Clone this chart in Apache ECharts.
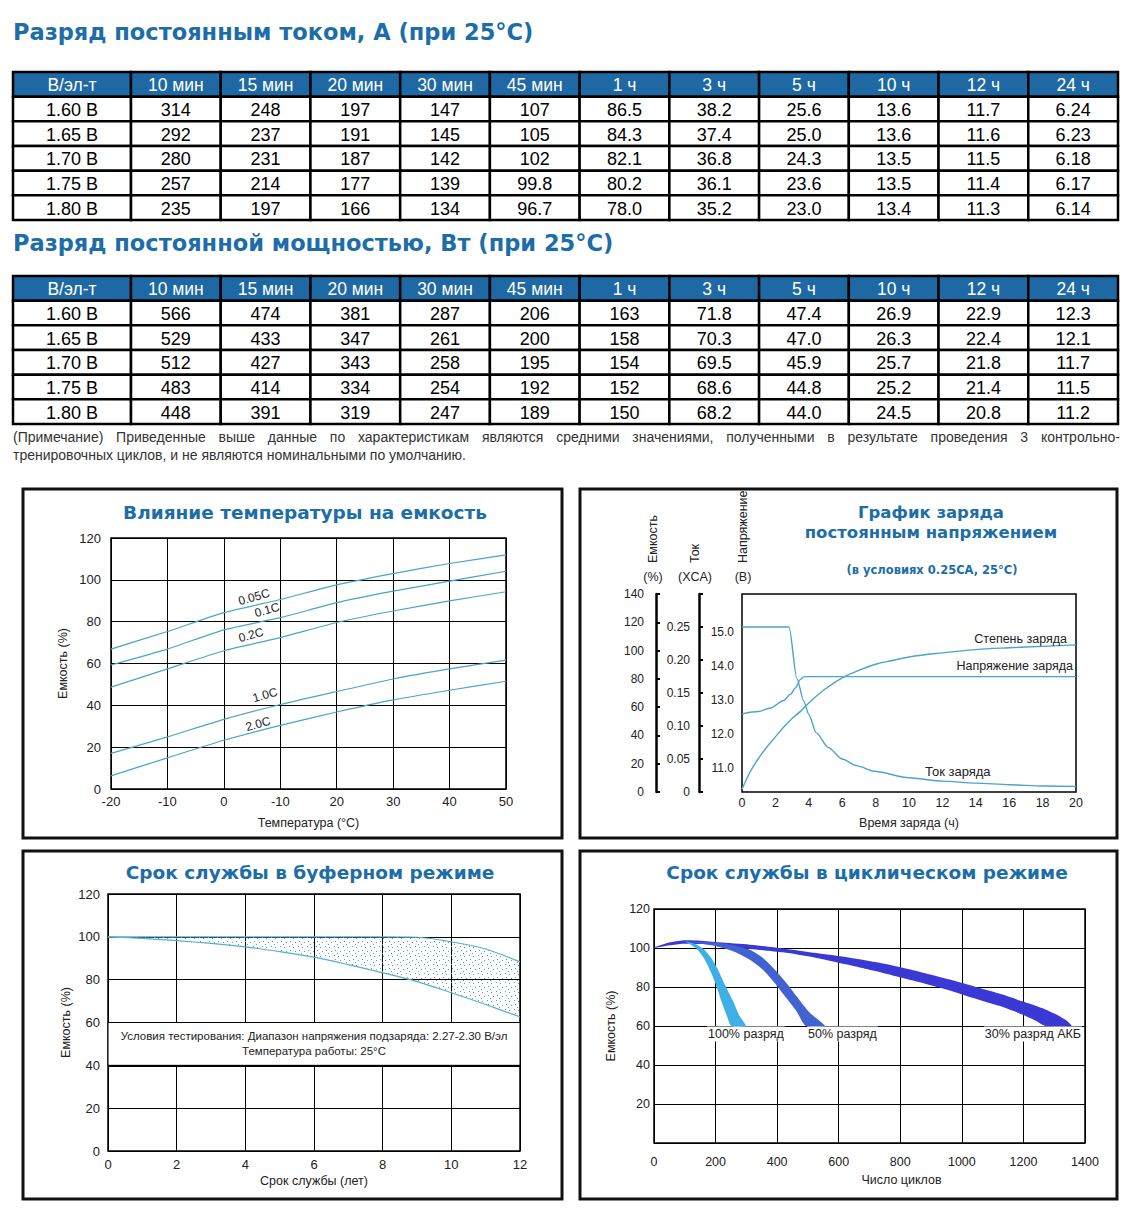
<!DOCTYPE html>
<html><head><meta charset="utf-8">
<script src="https://cdn.jsdelivr.net/npm/echarts@6/dist/echarts.min.js"></script>
<style>html,body{margin:0;padding:0;background:#fff}#c{width:1130px;height:1216px}</style>
</head><body><div id="c"></div>
<script>
// ================= DATA =================
// Tables
const headFirst = 'В/эл-т';
const durations = ['10 мин','15 мин','20 мин','30 мин','45 мин','1 ч','3 ч','5 ч','10 ч','12 ч','24 ч'];
const cellVoltages = ['1.60 В','1.65 В','1.70 В','1.75 В','1.80 В'];
const currentA = [
  [314,248,197,147,107,86.5,38.2,25.6,13.6,11.7,6.24],
  [292,237,191,145,105,84.3,37.4,25.0,13.6,11.6,6.23],
  [280,231,187,142,102,82.1,36.8,24.3,13.5,11.5,6.18],
  [257,214,177,139,99.8,80.2,36.1,23.6,13.5,11.4,6.17],
  [235,197,166,134,96.7,78.0,35.2,23.0,13.4,11.3,6.14]
];
const powerW = [
  [566,474,381,287,206,163,71.8,47.4,26.9,22.9,12.3],
  [529,433,347,261,200,158,70.3,47.0,26.3,22.4,12.1],
  [512,427,343,258,195,154,69.5,45.9,25.7,21.8,11.7],
  [483,414,334,254,192,152,68.6,44.8,25.2,21.4,11.5],
  [448,391,319,247,189,150,68.2,44.0,24.5,20.8,11.2]
];
// Chart 1: temperature vs capacity
const tempC = [-20,-10,0,10,20,30,40,50];
const tempTickLabels = ['-20','-10','0','-10','20','30','40','50'];
const cap005C = [66.9,75.3,84.3,90.6,97.6,103,107.8,111.9];
const cap01C  = [59.3,66.9,76.1,81.9,89.1,94.6,99.4,104.1];
const cap02C  = [48.7,57.4,66.1,72.4,79.6,85.1,89.9,94.3];
const cap10C  = [17,24.9,33.3,40.4,46.6,52.6,57.4,61.6];
const cap20C  = [6.3,14.9,23.3,30.4,36.8,42.6,47.2,51.5];
const rateNames = ['0.05C','0.1C','0.2C','1.0C','2.0C'];
// Chart 2: constant voltage charge
const chgHoursCap = [0,0.5,1,1.5,2,2.5,3,3.5,4,5,6,7,8,9,10,12,14,16,18,20];
const chgCapacity = [2,14.5,24,32,39,46,52,57,63,73,80.7,86,90.3,93,95.5,98.4,100.7,102,103,104];
const chgHoursCur = [0,2.82,3.28,3.7,4.0,4.44,5.17,6,6.86,7.9,10,12,14,16,18,20];
const chgCurrent  = [0.25,0.25,0.1725,0.1375,0.1175,0.09,0.0675,0.05,0.04,0.0315,0.0215,0.0165,0.0135,0.011,0.009,0.0085];
const chgHoursVolt = [0,1,1.7,2.5,2.9,3.2,3.5,3.7,20];
const chgVoltage   = [12.59,12.66,12.76,12.98,13.16,13.35,13.6,13.68,13.68];
const voltTicks = [11,12,13,14,15];
// Chart 3: float service life
const floatYears = [0,1,2,3,4,5,6,7,8,9,10,11,12];
const floatUpper = [100,100,100,100,100,100,100,100,100,99.8,97.7,94.3,88.3];
const floatLower = [100,99.3,98.2,96.9,95.3,93.1,90.5,87.0,83.2,79.1,73.9,68.4,62.6];
const floatNote = ['Условия тестирования: Диапазон напряжения подзаряда: 2.27-2.30 В/эл','Температура работы: 25°C'];
// Chart 4: cycle life (band edges: [cycles, %])
const band30Upper = [[0,100.3],[51,102.9],[94,103.9],[148,103.7],[211,102.9],[311,101.7],[419,99.8],[528,97.4],[627,95.2],[744,92],[842,88.6],[961,83.8],[1018,81.3],[1124,76.5],[1196,72.7],[1260,69.2],[1310,65.6],[1340,62.8],[1356,60]];
const band30Lower = [[0,100],[51,101.4],[94,102.2],[148,102],[211,101.4],[311,99.5],[419,97.8],[528,94.9],[627,91.5],[744,87.2],[842,83.3],[961,78.2],[1018,75.3],[1124,70.2],[1196,65.9],[1240,62.7],[1272,60]];
const band50Upper = [[127,103.2],[211,102.6],[257,101.4],[311,99.1],[354,94.9],[398,88],[430,82.1],[463,75.3],[506,66.8],[555,60]];
const band50Lower = [[127,102.8],[203,100.9],[257,98.3],[311,94],[354,88.9],[392,82.1],[430,74.4],[463,67.6],[493,60]];
const band100Upper = [[100,103.5],[127,102.6],[159,99.7],[186,94.9],[208,88.9],[230,81.3],[257,72.7],[278,65.1],[298,60]];
const band100Lower = [[100,103.5],[138,99.7],[165,94],[186,87.2],[203,80.4],[219,72.7],[237,65.1],[251,60]];
const bandNames = ['100% разряд','50% разряд','30% разряд АКБ'];

// ================= STYLE =================
const BLUE = '#1c6da8';
const HEAD = '#1e68a4';
const LINE = '#4aa4cc';
const TXT = '#222';
const SANS = '"Liberation Sans", Arial, sans-serif';
const HEAVY = '"DejaVu Sans", sans-serif';

function fmt(v){ return Number(v).toPrecision(3); }

function tableRenderer(getText){
  return function(params, api){
    const c = api.value(0), r = api.value(1);
    const p = api.coord([c, r]);
    const s = api.size([1, 1]);
    const head = r === 0;
    return {type:'group', children:[
      {type:'rect', shape:{x:p[0]-s[0]/2, y:p[1]-s[1]/2, width:s[0], height:s[1]},
        style:{fill: head ? HEAD : '#fff', stroke:'#000', lineWidth:2.5}},
      {type:'text', x:p[0], y:p[1]+1, style:{text:getText(c, r), fill: head ? '#fff' : '#000',
        fontSize: head ? 17.5 : 18, fontFamily: SANS, align:'center', verticalAlign:'middle'}}
    ]};
  };
}
function cellsFirst(){ const d=[]; for(let r=0;r<=cellVoltages.length;r++) d.push([0,r]); return d; }
function cellsRest(){ const d=[]; for(let r=0;r<=cellVoltages.length;r++) for(let c=0;c<durations.length;c++) d.push([c,r]); return d; }

function dotPattern(){
  const cv = document.createElement('canvas'); cv.width = 9; cv.height = 9;
  const ctx = cv.getContext('2d'); ctx.fillStyle = '#4d9fc9';
  [[1,1],[5,2],[2,5],[7,6],[4,8]].forEach(([x,y]) => ctx.fillRect(x,y,1,1));
  return {image: cv, repeat:'repeat', imageWidth:9, imageHeight:9};
}

function bandRenderer(upper, lower, color, smooth){
  return function(params, api){
    if (params.dataIndex !== 0) return null;
    const pts = upper.map(p => api.coord(p));
    for (let i = lower.length - 1; i >= 0; i--) pts.push(api.coord(lower[i]));
    return {type:'polygon', shape:{points:pts, smooth:smooth}, style:{fill:color}};
  };
}

const pair = (xs, ys) => xs.map((x,i) => [x, ys[i]]);

const axLabel = (o) => Object.assign({color:TXT, fontSize:13, fontFamily:SANS}, o||{});
const nameStyle = {color:TXT, fontSize:12.5, fontFamily:SANS};
const gridLine = {show:true, lineStyle:{color:'#000', width:1}};

// ================= GRAPHIC (frames & text) =================
function txt(x, y, text, o){
  return Object.assign({type:'text', x:x, y:y, z:100, style:Object.assign({text:text, fill:TXT, fontSize:12.5,
    fontFamily:SANS, align:'center', verticalAlign:'middle'}, o && o.style || {})}, o && o.el || {});
}
const graphics = [];
['Разряд постоянным током, А (при 25°C)', 'Разряд постоянной мощностью, Вт (при 25°C)'].forEach((t, i) => {
  graphics.push(txt(13, i ? 243 : 32, t, {style:{fill:BLUE, fontSize:22.5, fontWeight:'bold', fontFamily:HEAVY, align:'left'}}));
});
// justified note
(function(){
  const line1 = '(Примечание) Приведенные выше данные по характеристикам являются средними значениями, полученными в результате проведения 3 контрольно-';
  const line2 = 'тренировочных циклов, и не являются номинальными по умолчанию.';
  const font = '14px "Liberation Sans"';
  const ctx = document.createElement('canvas').getContext('2d'); ctx.font = font;
  const words = line1.split(' ');
  const widths = words.map(w => ctx.measureText(w).width);
  const total = widths.reduce((a,b)=>a+b,0);
  const gap = (1120 - 13 - total) / (words.length - 1);
  let x = 13;
  words.forEach((w,i) => { graphics.push(txt(x, 437, w, {style:{align:'left', fontSize:14, fill:'#333'}})); x += widths[i] + gap; });
  graphics.push(txt(13, 455, line2, {style:{align:'left', fontSize:14, fill:'#333'}}));
})();
// frames
[[23,489],[580,489],[23,851],[580,851]].forEach(([x,y]) => graphics.push({type:'rect', z:100,
  shape:{x:x, y:y, width: x < 100 ? 539 : 537, height: y < 600 ? 349 : 348},
  style:{fill:'rgba(0,0,0,0)', stroke:'#111', lineWidth:3}}));
// chart titles
const titleStyle = {fill:BLUE, fontSize:18.5, fontWeight:'bold', fontFamily:HEAVY};
graphics.push(txt(305, 512, 'Влияние температуры на емкость', {style:titleStyle}));
graphics.push(txt(931, 512, 'График заряда', {style:Object.assign({}, titleStyle, {fontSize:16.5})}));
graphics.push(txt(931, 532, 'постоянным напряжением', {style:Object.assign({}, titleStyle, {fontSize:16.5})}));
graphics.push(txt(932, 570, '(в условиях 0.25CA, 25°C)', {style:{fill:BLUE, fontSize:11.5, fontWeight:'bold', fontFamily:HEAVY}}));
graphics.push(txt(310, 872, 'Срок службы в буферном режиме', {style:titleStyle}));
graphics.push(txt(867, 872, 'Срок службы в циклическом режиме', {style:titleStyle}));
// chart 2 axis captions
[[653,'Емкость','(%)'],[695,'Ток','(XCA)'],[743,'Напряжение','(В)']].forEach(([x,a,b]) => {
  graphics.push(txt(x, 563, a, {style:{align:'left', fontSize:12.5}, el:{rotation:Math.PI/2}}));
  graphics.push(txt(x, 577, b, {style:{fontSize:12.5}}));
});
// chart 2 curve labels
graphics.push(txt(1067, 639, 'Степень заряда', {style:{align:'right'}}));
graphics.push(txt(1073, 666, 'Напряжение заряда', {style:{align:'right'}}));
graphics.push(txt(925, 771, 'Ток заряда', {style:{align:'left', fontSize:13}}));
// chart 1 rate labels
[[254,597],[267,610],[251,635],[265,695],[258,724]].forEach(([x,y],i) =>
  graphics.push(txt(x, y, rateNames[i], {style:{fontSize:12}, el:{rotation:16*Math.PI/180}})));
// chart 4 band labels
[[707,'left'],[807,'left'],[1082,'right']].forEach(([x,a],i) =>
  graphics.push(txt(x, 1034, bandNames[i], {style:{align:a, fontSize:12.5, backgroundColor:'#fff', padding:[1,1]}})));

// ================= OPTION =================
const option = {
  animation:false,
  backgroundColor:'#fff',
  grid:[
    {left:13, top:72, width:118, height:148},
    {left:131, top:72, width:987, height:148},
    {left:13, top:276, width:118, height:148},
    {left:131, top:276, width:987, height:148},
    {left:111, top:538, width:395, height:251, show:true, borderColor:'#000', borderWidth:1.5},
    {left:742, top:594, width:334, height:198, show:true, borderColor:'#000', borderWidth:1.5},
    {left:108, top:894, width:412, height:257, show:true, borderColor:'#000', borderWidth:1.5},
    {left:654, top:909, width:431, height:234, show:true, borderColor:'#000', borderWidth:1.5}
  ],
  xAxis:[
    {gridIndex:0, type:'category', data:[headFirst], show:false},
    {gridIndex:1, type:'category', data:durations, show:false},
    {gridIndex:2, type:'category', data:[headFirst], show:false},
    {gridIndex:3, type:'category', data:durations, show:false},
    {gridIndex:4, type:'value', min:-20, max:50, interval:10, axisLine:{show:false}, axisTick:{show:false}, splitLine:gridLine,
      axisLabel:axLabel({margin:6, formatter: v => { const i = tempC.indexOf(v); return i >= 0 ? tempTickLabels[i] : String(v); }}),
      name:'Температура (°C)', nameLocation:'middle', nameGap:27, nameTextStyle:nameStyle},
    {gridIndex:5, type:'value', min:0, max:20, interval:2, axisLine:{show:false}, axisTick:{show:false}, splitLine:{show:false},
      axisLabel:axLabel({margin:4, fontSize:12.5}),
      name:'Время заряда (ч)', nameLocation:'middle', nameGap:24, nameTextStyle:nameStyle},
    {gridIndex:6, type:'value', min:0, max:12, interval:2, axisLine:{show:false}, axisTick:{show:false}, splitLine:gridLine,
      axisLabel:axLabel({margin:7}),
      name:'Срок службы (лет)', nameLocation:'middle', nameGap:23, nameTextStyle:nameStyle},
    {gridIndex:7, type:'value', min:0, max:1400, interval:200, axisLine:{show:false}, axisTick:{show:false}, splitLine:gridLine,
      axisLabel:axLabel({margin:12, fontSize:12.5, formatter: v => String(v)}),
      name:'Число циклов', nameLocation:'middle', nameGap:30, nameTextStyle:Object.assign({padding:[0,0,0,64]}, nameStyle)}
  ],
  yAxis:[
    {gridIndex:0, type:'category', data:['h'].concat(cellVoltages), inverse:true, show:false},
    {gridIndex:1, type:'category', data:['h'].concat(cellVoltages), inverse:true, show:false},
    {gridIndex:2, type:'category', data:['h'].concat(cellVoltages), inverse:true, show:false},
    {gridIndex:3, type:'category', data:['h'].concat(cellVoltages), inverse:true, show:false},
    {gridIndex:4, type:'value', min:0, max:120, interval:20, axisLine:{show:false}, axisTick:{show:false}, splitLine:gridLine,
      axisLabel:axLabel({margin:10}),
      name:'Емкость (%)', nameLocation:'middle', nameRotate:90, nameGap:42, nameTextStyle:nameStyle},
    {gridIndex:5, type:'value', position:'left', min:10.3, max:16.1, axisLine:{show:false}, axisTick:{show:false}, splitLine:{show:false},
      axisLabel:axLabel({margin:8, fontSize:12, customValues:voltTicks, formatter: v => Number(v).toFixed(1)})},
    {gridIndex:5, type:'value', position:'left', offset:43, min:0, max:0.3, interval:0.05,
      axisLine:{show:true, lineStyle:{color:'#000', width:2.5}}, axisTick:{show:true, inside:true, length:4, lineStyle:{color:'#000', width:2}},
      splitLine:{show:false},
      axisLabel:axLabel({margin:9, fontSize:12, formatter: v => v > 0.26 ? '' : (v === 0 ? '0' : Number(v).toFixed(2))})},
    {gridIndex:5, type:'value', position:'left', offset:86, min:0, max:140, interval:20,
      axisLine:{show:true, lineStyle:{color:'#000', width:2.5}}, axisTick:{show:true, inside:true, length:4, lineStyle:{color:'#000', width:2}},
      splitLine:{show:false}, axisLabel:axLabel({margin:12, fontSize:12})},
    {gridIndex:6, type:'value', min:0, max:120, interval:20, axisLine:{show:false}, axisTick:{show:false}, splitLine:gridLine,
      axisLabel:axLabel({margin:8}),
      name:'Емкость (%)', nameLocation:'middle', nameRotate:90, nameGap:36, nameTextStyle:nameStyle},
    {gridIndex:7, type:'value', min:0, max:120, interval:20, axisLine:{show:false}, axisTick:{show:false}, splitLine:gridLine,
      axisLabel:axLabel({margin:4, fontSize:12.5, formatter: v => v === 0 ? '' : String(v)}),
      name:'Емкость (%)', nameLocation:'middle', nameRotate:90, nameGap:37, nameTextStyle:nameStyle}
  ],
  graphic:graphics,
  series:[]
};

// tables
option.series.push({type:'custom', xAxisIndex:0, yAxisIndex:0, data:cellsFirst(), silent:true,
  renderItem: tableRenderer((c,r) => r === 0 ? headFirst : cellVoltages[r-1])});
option.series.push({type:'custom', xAxisIndex:1, yAxisIndex:1, data:cellsRest(), silent:true,
  renderItem: tableRenderer((c,r) => r === 0 ? durations[c] : fmt(currentA[r-1][c]))});
option.series.push({type:'custom', xAxisIndex:2, yAxisIndex:2, data:cellsFirst(), silent:true,
  renderItem: tableRenderer((c,r) => r === 0 ? headFirst : cellVoltages[r-1])});
option.series.push({type:'custom', xAxisIndex:3, yAxisIndex:3, data:cellsRest(), silent:true,
  renderItem: tableRenderer((c,r) => r === 0 ? durations[c] : fmt(powerW[r-1][c]))});

// chart 1
[cap005C, cap01C, cap02C, cap10C, cap20C].forEach((arr, i) => option.series.push({
  type:'line', name:rateNames[i], xAxisIndex:4, yAxisIndex:4, data:pair(tempC, arr), symbol:'none', smooth:0.2,
  lineStyle:{color:LINE, width:1.2}, silent:true}));

// chart 2
option.series.push({type:'line', name:'Степень заряда', xAxisIndex:5, yAxisIndex:7, data:pair(chgHoursCap, chgCapacity),
  symbol:'none', smooth:0.4, lineStyle:{color:LINE, width:1.4}, silent:true});
option.series.push({type:'line', name:'Ток заряда', xAxisIndex:5, yAxisIndex:6, data:pair(chgHoursCur, chgCurrent),
  symbol:'none', smooth:0.25, smoothMonotone:'x', lineStyle:{color:LINE, width:1.4}, silent:true});
option.series.push({type:'line', name:'Напряжение заряда', xAxisIndex:5, yAxisIndex:5, data:pair(chgHoursVolt, chgVoltage),
  symbol:'none', smooth:0.3, smoothMonotone:'x', lineStyle:{color:LINE, width:1.4}, silent:true});

// chart 3
option.series.push({type:'custom', xAxisIndex:6, yAxisIndex:8, silent:true, clip:true,
  data:pair(floatYears, floatUpper),
  renderItem: bandRenderer(pair(floatYears, floatUpper), pair(floatYears, floatLower), dotPattern(), 0)});
option.series.push({type:'line', xAxisIndex:6, yAxisIndex:8, data:pair(floatYears, floatUpper), symbol:'none', smooth:0.3,
  lineStyle:{color:'#59acd2', width:1.2}, silent:true});
option.series.push({type:'line', xAxisIndex:6, yAxisIndex:8, data:pair(floatYears, floatLower), symbol:'none', smooth:0.3,
  lineStyle:{color:'#59acd2', width:1.2}, silent:true,
  markArea:{silent:true, itemStyle:{color:'#fff', borderColor:'#000', borderWidth:1},
    label:{show:true, position:'inside', formatter:floatNote.join('\n'), color:TXT, fontSize:11.5, lineHeight:15, fontFamily:SANS},
    data:[[{yAxis:40},{yAxis:60}]]},
  markLine:{silent:true, symbol:'none', label:{show:false}, lineStyle:{color:'#000', width:2.2, type:'solid'}, data:[{yAxis:40}]}
});

// chart 4
[[band30Upper, band30Lower, '#3b39d6'], [band50Upper, band50Lower, '#4262d2'], [band100Upper, band100Lower, '#3fb0e6']]
  .forEach(([u, l, col], i) => option.series.push({type:'custom', name:bandNames[2-i], xAxisIndex:7, yAxisIndex:9,
    silent:true, clip:true, data:u, renderItem: bandRenderer(u, l, col, 0.2)}));

const chart = echarts.init(document.getElementById('c'), null, {renderer:'svg', width:1130, height:1216});
chart.setOption(option);
</script>
</body></html>
